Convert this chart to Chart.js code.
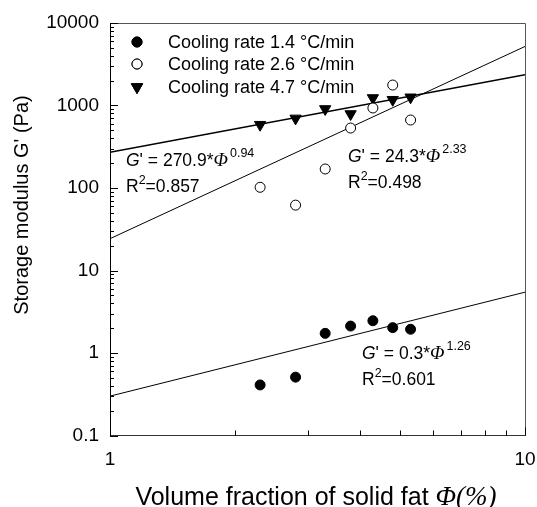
<!DOCTYPE html>
<html>
<head>
<meta charset="utf-8">
<script src="https://cdn.jsdelivr.net/npm/chart.js@4.4.0/dist/chart.umd.min.js"></script>
<style>
  html, body { margin: 0; padding: 0; background: #fff; }
  #wrap { width: 537px; height: 507px; }
</style>
</head>
<body>
<div id="wrap"><canvas id="myChart" width="537" height="507"></canvas></div>
<script>
// --- Dados ---
const volumeFraction = [2.3, 2.8, 3.3, 3.8, 4.3, 4.8, 5.3];
const rate14 = [0.41, 0.51, 1.73, 2.12, 2.46, 2.03, 1.94];
const rate26 = [102, 62, 170, 533, 933, 1770, 667];
const rate47 = [585, 698, 908, 789, 1233, 1175, 1258];
const seriesLabels = ['Cooling rate 1.4 °C/min', 'Cooling rate 2.6 °C/min', 'Cooling rate 4.7 °C/min'];

// extremos das retas de ajuste (Φ = 1 e Φ = 10)
const fitX = [1, 10];
const fit14 = [0.3, 5.46];
const fit26 = [24.3, 5195];
const fit47 = [270.9, 2359];

const yTickValues = [0.1, 1, 10, 100, 1000, 10000];
const xTickValues = [1, 10];

const pts = (xs, ys) => xs.map((x, i) => ({ x: x, y: ys[i] }));

const chartCanvas = document.getElementById('myChart');

// --- Plugin para ticks internos, moldura, legenda, textos ---
const decorPlugin = {
  id: 'decor',
  afterDraw(chart) {
    const ctx = chart.ctx;
    const area = chart.chartArea;
    const xs = chart.scales.x;
    const ys = chart.scales.y;
    ctx.save();

    // moldura superior e direita
    ctx.strokeStyle = '#555';
    ctx.lineWidth = 1;
    ctx.beginPath();
    ctx.moveTo(area.left, area.top + 0.5);
    ctx.lineTo(area.right + 0.5, area.top + 0.5);
    ctx.lineTo(area.right + 0.5, area.bottom);
    ctx.stroke();

    // ticks do eixo y (para dentro)
    ctx.strokeStyle = '#000';
    ctx.beginPath();
    for (let d = -1; d <= 4; d++) {
      for (let m = 1; m <= 9; m++) {
        const v = m * Math.pow(10, d);
        if (v > 10000 + 1e-9) continue;
        const py = Math.round(ys.getPixelForValue(v)) + 0.5;
        const len = m === 1 ? 8 : 4;
        ctx.moveTo(area.left, py);
        ctx.lineTo(area.left + len, py);
      }
    }
    // ticks do eixo x (para dentro)
    for (let m = 1; m <= 10; m++) {
      const px = Math.round(xs.getPixelForValue(m)) + 0.5;
      const len = (m === 1 || m === 10) ? 8 : 5;
      ctx.moveTo(px, area.bottom);
      ctx.lineTo(px, area.bottom - len);
    }
    ctx.stroke();

    // legenda
    ctx.font = '18px "Liberation Sans", Arial, sans-serif';
    ctx.textBaseline = 'middle';
    ctx.textAlign = 'left';
    const legendY = [42, 64, 87];
    chart.data.datasets.slice(0, 3).forEach((ds, i) => {
      const cx = 137, cy = legendY[i];
      Chart.helpers.drawPoint(ctx, {
        pointStyle: ds.pointStyle,
        rotation: ds.rotation || 0,
        radius: ds.pointRadius,
        borderWidth: ds.borderWidth
      }, cx, cy);
      ctx.fillStyle = ds.pointBackgroundColor;
      ctx.strokeStyle = ds.pointBorderColor;
      ctx.lineWidth = ds.borderWidth;
      ctx.fill();
      ctx.stroke();
      ctx.fillStyle = '#000';
      ctx.fillText(ds.label, 168, cy + 1);
    });

    // equações
    const eq = (x, y, coef, expo, r2) => {
      ctx.fillStyle = '#000';
      ctx.textBaseline = 'alphabetic';
      let cx = x;
      ctx.font = 'italic 17.5px "Liberation Sans", Arial, sans-serif';
      ctx.fillText('G', cx, y); cx += ctx.measureText('G').width;
      ctx.font = '17.5px "Liberation Sans", Arial, sans-serif';
      const t1 = "' = " + coef + '*';
      ctx.fillText(t1, cx, y); cx += ctx.measureText(t1).width;
      ctx.font = 'italic 19px "Liberation Serif", "Times New Roman", serif';
      ctx.fillText('Φ', cx, y); cx += ctx.measureText('Φ').width + 2;
      ctx.font = '12.5px "Liberation Sans", Arial, sans-serif';
      ctx.fillText(expo, cx, y - 9);
      // R²
      let rx = x;
      const y2 = y + 26;
      ctx.font = '17.5px "Liberation Sans", Arial, sans-serif';
      ctx.fillText('R', rx, y2); rx += ctx.measureText('R').width;
      ctx.font = '12.5px "Liberation Sans", Arial, sans-serif';
      ctx.fillText('2', rx, y2 - 8); rx += ctx.measureText('2').width;
      ctx.font = '17.5px "Liberation Sans", Arial, sans-serif';
      ctx.fillText('=' + r2, rx, y2);
    };
    eq(126, 166, '270.9', '0.94', '0.857');
    eq(348, 162, '24.3', '2.33', '0.498');
    eq(362, 359, '0.3', '1.26', '0.601');

    // título do eixo y
    ctx.save();
    ctx.translate(22, 205);
    ctx.rotate(-Math.PI / 2);
    ctx.textAlign = 'center';
    ctx.textBaseline = 'middle';
    ctx.font = '20px "Liberation Sans", Arial, sans-serif';
    ctx.fillText("Storage modulus G' (Pa)", 0, 0);
    ctx.restore();

    // título do eixo x
    ctx.textBaseline = 'alphabetic';
    const part1 = 'Volume fraction of solid fat ';
    const part2 = 'Φ(%)';
    ctx.font = '25px "Liberation Sans", Arial, sans-serif';
    const w1 = ctx.measureText(part1).width;
    ctx.font = 'italic 27px "Liberation Serif", "Times New Roman", serif';
    const w2 = ctx.measureText(part2).width;
    let sx = 316 - (w1 + w2) / 2;
    ctx.font = '25px "Liberation Sans", Arial, sans-serif';
    ctx.fillText(part1, sx, 505);
    ctx.font = 'italic 27px "Liberation Serif", "Times New Roman", serif';
    ctx.fillText(part2, sx + w1, 505);

    ctx.restore();
  }
};

const fitStyle = (data, w) => ({
  type: 'line',
  data: data,
  borderColor: '#000',
  borderWidth: w,
  pointRadius: 0,
  fill: false,
  showLine: true
});

new Chart(chartCanvas, {
  type: 'scatter',
  data: {
    datasets: [
      {
        label: seriesLabels[0],
        data: pts(volumeFraction, rate14),
        pointStyle: 'circle',
        pointRadius: 5,
        pointBackgroundColor: '#000',
        pointBorderColor: '#000',
        borderWidth: 1
      },
      {
        label: seriesLabels[1],
        data: pts(volumeFraction, rate26),
        pointStyle: 'circle',
        pointRadius: 5,
        pointBackgroundColor: '#fff',
        pointBorderColor: '#000',
        borderWidth: 1
      },
      {
        label: seriesLabels[2],
        data: pts(volumeFraction, rate47),
        pointStyle: 'triangle',
        rotation: 180,
        pointRotation: 180,
        pointRadius: 6.5,
        pointBackgroundColor: '#000',
        pointBorderColor: '#000',
        borderWidth: 1
      },
      fitStyle(pts(fitX, fit14), 1),
      fitStyle(pts(fitX, fit26), 1),
      fitStyle(pts(fitX, fit47), 1.5)
    ]
  },
  options: {
    responsive: false,
    animation: false,
    layout: { padding: { top: 23, right: 0, left: 0, bottom: 0 } },
    plugins: {
      legend: { display: false },
      tooltip: { enabled: false },
      title: { display: false }
    },
    scales: {
      x: {
        type: 'logarithmic',
        min: 1,
        max: 10,
        afterFit: (scale) => {
          scale.height = 71.5;
          scale.paddingLeft = 0;
          scale.paddingRight = 12;
        },
        afterBuildTicks: (scale) => { scale.ticks = xTickValues.map(v => ({ value: v })); },
        grid: { display: false, drawTicks: false },
        border: { display: true, color: '#333', width: 1 },
        ticks: {
          padding: 13,
          color: '#000',
          font: { family: '"Liberation Sans", Arial, sans-serif', size: 19 },
          callback: (v) => String(v),
          maxRotation: 0,
          autoSkip: false
        }
      },
      y: {
        type: 'logarithmic',
        min: 0.1,
        max: 10000,
        afterFit: (scale) => { scale.width = 110; },
        afterBuildTicks: (scale) => { scale.ticks = yTickValues.map(v => ({ value: v })); },
        grid: { display: false, drawTicks: false },
        border: { display: true, color: '#000', width: 1 },
        ticks: {
          padding: 11,
          color: '#000',
          font: { family: '"Liberation Sans", Arial, sans-serif', size: 19 },
          callback: (v) => String(v),
          autoSkip: false
        }
      }
    }
  },
  plugins: [decorPlugin]
});
</script>
</body>
</html>
